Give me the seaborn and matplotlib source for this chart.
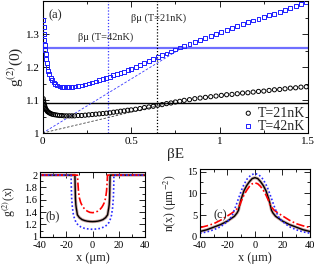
import matplotlib
matplotlib.use("Agg")
import matplotlib.pyplot as plt
from matplotlib.ticker import MultipleLocator, FixedLocator, FuncFormatter
import seaborn as sns

# panel (a): g2(0) vs beta*E
beta_e = [0.003, 0.005, 0.007, 0.009, 0.011, 0.013, 0.016, 0.019, 0.023, 0.027,
          0.032, 0.038, 0.045, 0.053, 0.062, 0.072, 0.083, 0.095, 0.108, 0.121,
          0.135, 0.150, 0.165, 0.180, 0.200, 0.220, 0.240, 0.260, 0.280, 0.300,
          0.320, 0.340, 0.360, 0.380, 0.400, 0.420, 0.440, 0.460, 0.480, 0.500,
          0.525, 0.550, 0.575, 0.600, 0.625, 0.650, 0.675, 0.700, 0.725, 0.750,
          0.775, 0.800, 0.830, 0.860, 0.890, 0.920, 0.950, 0.980, 1.010, 1.040,
          1.070, 1.100, 1.130, 1.160, 1.190, 1.220, 1.250, 1.280, 1.310, 1.340,
          1.370, 1.400, 1.430, 1.460, 1.490]
g2_21nK = [1.104, 1.097, 1.091, 1.086, 1.082, 1.078, 1.074, 1.071, 1.068, 1.065,
           1.063, 1.061, 1.059, 1.057, 1.056, 1.055, 1.054, 1.053, 1.053, 1.052,
           1.052, 1.052, 1.052, 1.052, 1.053, 1.053, 1.054, 1.055, 1.056, 1.057,
           1.058, 1.059, 1.060, 1.061, 1.063, 1.064, 1.066, 1.067, 1.069, 1.070,
           1.072, 1.074, 1.077, 1.079, 1.081, 1.084, 1.086, 1.089, 1.091, 1.094,
           1.096, 1.099, 1.101, 1.104, 1.106, 1.108, 1.110, 1.112, 1.114, 1.116,
           1.117, 1.119, 1.121, 1.122, 1.124, 1.126, 1.127, 1.129, 1.131, 1.132,
           1.134, 1.136, 1.137, 1.139, 1.140]
g2_42nK = [1.342, 1.320, 1.300, 1.282, 1.266, 1.252, 1.238, 1.225, 1.212, 1.200,
           1.189, 1.178, 1.168, 1.160, 1.153, 1.148, 1.144, 1.141, 1.140, 1.139,
           1.139, 1.139, 1.140, 1.141, 1.142, 1.144, 1.147, 1.150, 1.153, 1.156,
           1.160, 1.163, 1.167, 1.171, 1.175, 1.178, 1.182, 1.186, 1.190, 1.195,
           1.200, 1.205, 1.211, 1.217, 1.223, 1.229, 1.235, 1.241, 1.247, 1.253,
           1.259, 1.265, 1.271, 1.277, 1.283, 1.289, 1.295, 1.301, 1.307, 1.312,
           1.318, 1.324, 1.330, 1.335, 1.341, 1.346, 1.352, 1.357, 1.362, 1.367,
           1.373, 1.380, 1.386, 1.391, 1.396]

# straight guide lines from (0,1)
guide_be_21 = [0.0, 0.75]
guide_g_21 = [1.0, 1.095]
guide_be_42 = [0.0, 0.8]
guide_g_42 = [1.0, 1.262]

# horizontal levels and beta*mu positions
level_21nK = 1.092
level_42nK = 1.257
beta_mu_21nK = 0.647
beta_mu_42nK = 0.367

# panel (b): g2(x)
xb_21 = [-40, -13.4, -13.3, -13.2, -13.0, -12.7, -12.4, -12.0, -11.5, -10, -8, -6, -4, -2, 0,
         2, 4, 6, 8, 10, 11.5, 12.0, 12.4, 12.7, 13.0, 13.2, 13.3, 13.4, 40]
gb_21 = [2, 2, 1.9, 1.8, 1.62, 1.52, 1.47, 1.42, 1.355, 1.31, 1.278, 1.262, 1.252, 1.247, 1.245,
         1.247, 1.252, 1.262, 1.278, 1.31, 1.355, 1.42, 1.47, 1.52, 1.62, 1.8, 1.9, 2, 2]
xb_mid = [-40, -11.4, -11.2, -10.7, -10, -9, -8, -7, -6, -4, -2, 0,
          2, 4, 6, 7, 8, 9, 10, 10.7, 11.2, 11.4, 40]
gb_mid = [2, 2, 1.9, 1.74, 1.63, 1.555, 1.51, 1.475, 1.45, 1.415, 1.395, 1.39,
          1.395, 1.415, 1.45, 1.475, 1.51, 1.555, 1.63, 1.74, 1.9, 2, 2]
xb_low = [-40, -16.3, -16.2, -15.9, -15.3, -14.5, -13.5, -12.5, -11, -9, -6, -3, 0,
          3, 6, 9, 11, 12.5, 13.5, 14.5, 15.3, 15.9, 16.2, 16.3, 40]
gb_low = [2, 2, 1.85, 1.63, 1.47, 1.35, 1.28, 1.23, 1.19, 1.16, 1.135, 1.125, 1.12,
          1.125, 1.135, 1.16, 1.19, 1.23, 1.28, 1.35, 1.47, 1.63, 1.85, 2, 2]

# panel (c): n(x)
xc_21 = [-40, -35, -30, -25, -20, -15, -13, -12, -11, -10, -8, -6, -4, -2, 0,
         2, 4, 6, 8, 10, 11, 12, 13, 15, 20, 25, 30, 35, 40]
nc_21 = [1.2, 1.6, 2.2, 2.8, 3.6, 4.7, 5.5, 6.1, 7.5, 8.7, 10.6, 11.8, 12.7, 13.4, 13.6,
         13.4, 12.7, 11.8, 10.6, 8.7, 7.5, 6.1, 5.5, 4.7, 3.6, 2.8, 2.2, 1.6, 1.2]
xc_mid = [-40, -35, -30, -25, -20, -17, -14, -12, -11, -10, -8, -6, -4, -2, 0,
          2, 4, 6, 8, 10, 11, 12, 14, 17, 20, 25, 30, 35, 40]
nc_mid = [2.1, 2.5, 3.0, 3.8, 4.8, 5.4, 6.1, 6.8, 7.3, 8.2, 9.6, 10.7, 11.6, 12.2, 12.4,
          12.2, 11.6, 10.7, 9.6, 8.2, 7.3, 6.8, 6.1, 5.4, 4.8, 3.8, 3.0, 2.5, 2.1]
xc_low = [-40, -35, -30, -25, -20, -18, -16.5, -15.5, -14, -12, -9, -6, -3, 0,
          3, 6, 9, 12, 14, 15.5, 16.5, 18, 20, 25, 30, 35, 40]
nc_low = [0.8, 1.1, 1.6, 2.3, 3.5, 4.2, 4.9, 5.8, 7.0, 8.8, 11.4, 13.2, 14.2, 14.6,
          14.2, 13.2, 11.4, 8.8, 7.0, 5.8, 4.9, 4.2, 3.5, 2.3, 1.6, 1.1, 0.8]

sns.set_theme(style="ticks")
plt.rcParams["font.family"] = ["Liberation Serif", "DejaVu Serif"]
plt.rcParams["mathtext.fontset"] = "stix"
plt.rcParams["axes.unicode_minus"] = False
plt.rcParams["axes.linewidth"] = 0.8
plt.rcParams["axes.edgecolor"] = "black"

fmt = FuncFormatter(lambda v, p: f"{v:g}")


def style_axes(ax, size):
    ax.tick_params(which="both", direction="in", top=True, right=True,
                   width=0.6, colors="black", labelsize=size)
    ax.tick_params(axis="x", pad=3)
    ax.tick_params(axis="y", pad=2)
    ax.tick_params(which="major", length=4)
    ax.tick_params(which="minor", length=2)
    ax.xaxis.set_major_formatter(fmt)
    ax.yaxis.set_major_formatter(fmt)


fig = plt.figure(figsize=(3.18, 2.64), dpi=100)
ax_a = fig.add_axes([0.1343, 0.4962, 0.8343, 0.5])
ax_b = fig.add_axes([0.1258, 0.1034, 0.3302, 0.245])
ax_c = fig.add_axes([0.6289, 0.1034, 0.3459, 0.2564])

# ---- panel (a)
ax_a.axhline(level_42nK, color="#6f6fff", lw=1.6, zorder=1)
ax_a.axhline(level_21nK, color="black", lw=1.0, zorder=1)
ax_a.axvline(beta_mu_42nK, color="#3a3aff", lw=0.9, ls=(0, (1, 1.5)), zorder=1)
ax_a.axvline(beta_mu_21nK, color="black", lw=0.9, ls=(0, (1, 1.5)), zorder=1)
sns.lineplot(x=guide_be_42, y=guide_g_42, color="#3a3aff", lw=0.6,
             linestyle=(0, (3, 2)), ax=ax_a, estimator=None, sort=False)
sns.lineplot(x=guide_be_21, y=guide_g_21, color="#444444", lw=0.6,
             linestyle=(0, (3, 2)), ax=ax_a, estimator=None, sort=False)
sns.scatterplot(x=beta_e, y=g2_21nK, marker="o", s=9, facecolor="none",
                edgecolor="black", linewidth=0.7, label="T=21nK", ax=ax_a, zorder=3)
sns.scatterplot(x=beta_e, y=g2_42nK, marker="s", s=8, facecolor="none",
                edgecolor="#1f1fff", linewidth=0.7, label="T=42nK", ax=ax_a, zorder=3)

ax_a.set_xlim(0, 1.5)
ax_a.set_ylim(1.0, 1.4)
ax_a.xaxis.set_major_locator(MultipleLocator(0.5))
ax_a.xaxis.set_minor_locator(MultipleLocator(0.25))
ax_a.yaxis.set_major_locator(FixedLocator([1.0, 1.1, 1.2, 1.3, 1.4]))
ax_a.yaxis.set_minor_locator(MultipleLocator(0.05))
style_axes(ax_a, 8)
ax_a.set_yticklabels(["1", "1.1", "1.2", "1.3", ""])
ax_a.set_xlabel("βE", fontsize=11)
ax_a.set_ylabel("g$^{(2)}$(0)", fontsize=11)
ax_a.xaxis.set_label_coords(0.502, -0.11)
ax_a.yaxis.set_label_coords(-0.067, 0.5)
ax_a.text(0.03, 1.358, "(a)", fontsize=9, va="center")
ax_a.text(0.2, 1.29, "βμ (T=42nK)", fontsize=7.5, va="center")
ax_a.text(0.5, 1.348, "βμ (T=21nK)", fontsize=7.5, va="center")
ax_a.legend(loc="lower right", bbox_to_anchor=(1.0, -0.02), frameon=False, fontsize=10,
            handletextpad=0.2, borderaxespad=0.0, labelspacing=0.0, handlelength=1.0,
            borderpad=0.2)

# ---- panel (b)
sns.lineplot(x=xb_21, y=gb_21, color="#c9a3a3", lw=2.2, ax=ax_b, estimator=None, sort=False)
sns.lineplot(x=xb_21, y=gb_21, color="black", lw=1.0, ax=ax_b, estimator=None, sort=False)
sns.lineplot(x=xb_mid, y=gb_mid, color="red", lw=1.2, linestyle=(0, (5, 1.5, 1, 1.5)),
             ax=ax_b, estimator=None, sort=False)
sns.lineplot(x=xb_low, y=gb_low, color="#2a2aff", lw=1.2, linestyle=(0, (1, 1.3)),
             ax=ax_b, estimator=None, sort=False)
ax_b.set_xlim(-40, 40)
ax_b.set_ylim(1.0, 2.05)
ax_b.xaxis.set_major_locator(MultipleLocator(20))
ax_b.xaxis.set_minor_locator(MultipleLocator(10))
ax_b.yaxis.set_major_locator(MultipleLocator(0.2))
ax_b.yaxis.set_minor_locator(MultipleLocator(0.1))
style_axes(ax_b, 7.5)
ax_b.set_xlabel("x (μm)", fontsize=9)
ax_b.set_ylabel("g$^{(2)}$(x)", fontsize=8.5)
ax_b.xaxis.set_label_coords(0.5, -0.235)
ax_b.yaxis.set_label_coords(-0.205, 0.54)
ax_b.text(-36, 1.33, "(b)", fontsize=9, va="center")

# ---- panel (c)
sns.lineplot(x=xc_21, y=nc_21, color="#c9a3a3", lw=2.2, ax=ax_c, estimator=None, sort=False)
sns.lineplot(x=xc_21, y=nc_21, color="black", lw=1.0, ax=ax_c, estimator=None, sort=False)
sns.lineplot(x=xc_mid, y=nc_mid, color="red", lw=1.2, linestyle=(0, (5, 1.5, 1, 1.5)),
             ax=ax_c, estimator=None, sort=False)
sns.lineplot(x=xc_low, y=nc_low, color="#2a2aff", lw=1.2, linestyle=(0, (1, 1.3)),
             ax=ax_c, estimator=None, sort=False)
ax_c.set_xlim(-40, 40)
ax_c.set_ylim(0, 15.6)
ax_c.xaxis.set_major_locator(MultipleLocator(20))
ax_c.xaxis.set_minor_locator(MultipleLocator(10))
ax_c.yaxis.set_major_locator(MultipleLocator(5))
ax_c.yaxis.set_minor_locator(MultipleLocator(2.5))
style_axes(ax_c, 7.5)
ax_c.set_xlabel("x (μm)", fontsize=9)
ax_c.set_ylabel("n(x) (μm$^{-2}$)", fontsize=8.5)
ax_c.xaxis.set_label_coords(0.5, -0.225)
ax_c.yaxis.set_label_coords(-0.19, 0.5)
ax_c.text(-30, 5.0, "(c)", fontsize=9, va="center")

fig.savefig("out.png", dpi=100)
